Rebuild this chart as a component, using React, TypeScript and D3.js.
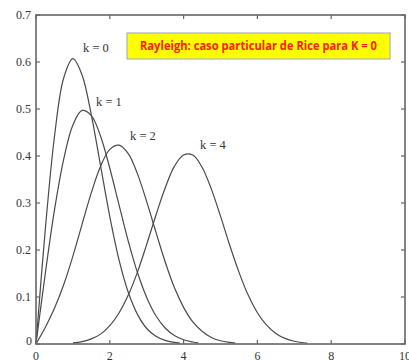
import React from "react";
import * as d3 from "d3";

const xK0 = [0, 0.25, 0.5, 0.75, 1, 1.25, 1.5, 1.75, 2, 2.25, 2.5, 2.75, 3, 3.25, 3.5, 3.75, 3.9];
const yK0 = [0, 0.242, 0.441, 0.566, 0.607, 0.572, 0.487, 0.379, 0.271, 0.179, 0.11, 0.063, 0.033, 0.0165, 0.0077, 0.0033, 0.0018];

const xK1 = [0, 0.25, 0.5, 0.75, 1, 1.25, 1.5, 1.75, 2, 2.25, 2.5, 2.75, 3, 3.25, 3.5, 3.75, 4, 4.25, 4.4];
const yK1 = [0, 0.149, 0.285, 0.393, 0.466, 0.497, 0.486, 0.442, 0.374, 0.296, 0.219, 0.152, 0.099, 0.06, 0.034, 0.018, 0.009, 0.0043, 0.0025];

const xK2 = [0, 0.25, 0.5, 0.75, 1, 1.25, 1.5, 1.75, 2, 2.25, 2.5, 2.75, 3, 3.25, 3.5, 3.75, 4, 4.25, 4.5, 4.75, 5, 5.25, 5.4];
const yK2 = [0, 0.035, 0.076, 0.126, 0.187, 0.255, 0.322, 0.378, 0.414, 0.423, 0.405, 0.362, 0.303, 0.238, 0.175, 0.12, 0.078, 0.047, 0.027, 0.014, 0.007, 0.0033, 0.002];

const xK4 = [1, 1.25, 1.5, 1.75, 2, 2.25, 2.5, 2.75, 3, 3.25, 3.5, 3.75, 4, 4.25, 4.5, 4.75, 5, 5.25, 5.5, 5.75, 6, 6.25, 6.5, 6.75, 7, 7.25, 7.35];
const yK4 = [0.0023, 0.0052, 0.011, 0.021, 0.039, 0.066, 0.104, 0.153, 0.212, 0.274, 0.332, 0.378, 0.402, 0.402, 0.376, 0.33, 0.272, 0.21, 0.153, 0.104, 0.0665, 0.04, 0.0225, 0.0119, 0.0059, 0.0027, 0.002];

const seriesLabels = ["k = 0", "k = 1", "k = 2", "k = 4"];
const xTicks = [0, 2, 4, 6, 8, 10];
const yTicks = [0, 0.1, 0.2, 0.3, 0.4, 0.5, 0.6, 0.7];
const yTickLabels = ["0", "0.1", "0.2", "0.3", "0.4", "0.5", "0.6", "0.7"];
const noteText = "Rayleigh: caso particular de Rice para K = 0";

const W = 409;
const H = 363;
const left = 36;
const right = 405;
const top = 15;
const bottom = 344;

export default function App() {
  const x = d3.scaleLinear().domain([0, 10]).range([left, right]);
  const y = d3.scaleLinear().domain([0, 0.7]).range([bottom, top]);

  const series = [
    { xs: xK0, ys: yK0 },
    { xs: xK1, ys: yK1 },
    { xs: xK2, ys: yK2 },
    { xs: xK4, ys: yK4 },
  ];

  const line = d3
    .line<[number, number]>()
    .x((d) => x(d[0]))
    .y((d) => y(d[1]))
    .curve(d3.curveCatmullRom.alpha(0.5));

  const labelPos = [
    { lx: 83, ly: 52 },
    { lx: 96, ly: 106 },
    { lx: 130, ly: 140 },
    { lx: 200, ly: 149 },
  ];

  const axisColor = "#666";
  const tickLen = 4;
  const serif = "'Liberation Serif', 'Times New Roman', serif";

  return (
    <svg
      width={W}
      height={H}
      style={{ position: "absolute", left: 0, top: 0, background: "#fff" }}
    >
      <rect x={0} y={0} width={W} height={H} fill="#fff" />
      {series.map((s, i) => (
        <path
          key={i}
          d={line(s.xs.map((v, j) => [v, s.ys[j]] as [number, number])) || ""}
          fill="none"
          stroke="#4a4a4a"
          strokeWidth={1.2}
        />
      ))}
      <rect
        x={left}
        y={top}
        width={right - left}
        height={bottom - top}
        fill="none"
        stroke={axisColor}
        strokeWidth={1.6}
      />
      {xTicks.map((t) => (
        <g key={"x" + t}>
          <line x1={x(t)} x2={x(t)} y1={bottom} y2={bottom - tickLen} stroke={axisColor} strokeWidth={1.2} />
          <line x1={x(t)} x2={x(t)} y1={top} y2={top + tickLen} stroke={axisColor} strokeWidth={1.2} />
          <text
            x={x(t)}
            y={360}
            textAnchor="middle"
            fontFamily={serif}
            fontSize={12}
            fill="#333"
          >
            {t}
          </text>
        </g>
      ))}
      {yTicks.map((t, i) => (
        <g key={"y" + t}>
          <line x1={left} x2={left + tickLen} y1={y(t)} y2={y(t)} stroke={axisColor} strokeWidth={1.2} />
          <line x1={right} x2={right - tickLen} y1={y(t)} y2={y(t)} stroke={axisColor} strokeWidth={1.2} />
          <text
            x={i === 0 ? 32 : 31}
            y={y(t) + (i === 0 ? 1 : 4)}
            textAnchor="end"
            fontFamily={serif}
            fontSize={12}
            fill="#333"
          >
            {yTickLabels[i]}
          </text>
        </g>
      ))}
      {seriesLabels.map((lab, i) => (
        <text
          key={lab}
          x={labelPos[i].lx}
          y={labelPos[i].ly}
          fontFamily={serif}
          fontSize={12.5}
          fill="#333"
          style={{ whiteSpace: "pre" }}
        >
          {lab}
        </text>
      ))}
      <rect x={127} y={33} width={263} height={26} fill="#ffff00" stroke="#9aa6b8" strokeWidth={1} />
      <text
        x={140}
        y={50}
        fontFamily="'Open Sans', 'Liberation Sans', sans-serif"
        fontWeight="bold"
        fontSize={12}
        fill="#ff1a00"
        textLength={237}
        lengthAdjust="spacingAndGlyphs"
      >
        {noteText}
      </text>
    </svg>
  );
}
